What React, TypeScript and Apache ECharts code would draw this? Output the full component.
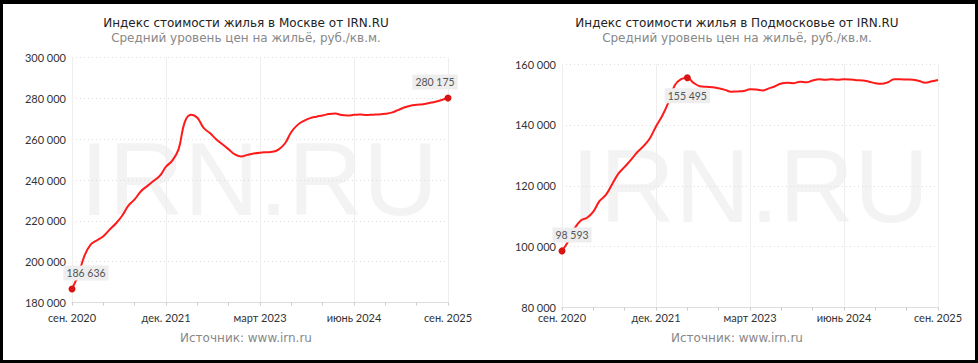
import React, { useEffect, useRef } from "react";
import * as echarts from "echarts";

const MONTHS = ["янв.", "февр.", "март", "апр.", "май", "июнь", "июль", "авг.", "сен.", "окт.", "нояб.", "дек."];
const START_YEAR = 2020;
const START_MONTH = 8; // сентябрь
const N_MONTHS = 61;

const categories: string[] = [];
for (let i = 0; i < N_MONTHS; i++) {
  const m = (START_MONTH + i) % 12;
  const y = START_YEAR + Math.floor((START_MONTH + i) / 12);
  categories.push(`${MONTHS[m]} ${y}`);
}

const moscowValues = [
  186636, 193500, 203000, 208500, 210500, 212500, 215700, 218700, 222500, 227500,
  230500, 234500, 237000, 239500, 242000, 246500, 249500, 255000, 268500, 272000,
  270500, 265500, 263000, 260000, 257500, 255000, 252500, 251500, 252300, 253000,
  253400, 253600, 253800, 255000, 258000, 263500, 267000, 269000, 270300, 271000,
  271600, 272300, 272600, 271800, 271600, 271900, 272100, 271800, 272000, 272100,
  272400, 273000, 274200, 275500, 276400, 276800, 277100, 277700, 278300, 279200,
  280175,
];

const regionValues = [
  98593, 101800, 106000, 108600, 109500, 111500, 115000, 117000, 120500, 124000,
  126200, 128500, 131000, 133000, 135500, 139500, 143000, 147500, 153000, 155000,
  155495, 153800, 152700, 152500, 152400, 152000, 151500, 150900, 151000, 151100,
  151700, 151600, 151300, 152000, 152700, 153600, 153800, 153700, 154200, 154000,
  154600, 155000, 154800, 155000, 154800, 155000, 154900, 154700, 154600, 154200,
  153700, 153500, 154000, 155000, 154950, 154900, 154850, 154400, 153850, 154300,
  154750,
];

const moscowAxis = { min: 180000, max: 300000, interval: 20000 };
const regionAxis = { min: 80000, max: 160000, interval: 20000 };

const moscowMarks = [
  { idx: 0, position: "top", offset: [14, 0] },
  { idx: 60, position: "top", offset: [-13, 0] },
];
const regionMarks = [
  { idx: 0, position: "top", offset: [10, 0] },
  { idx: 20, position: "bottom", offset: [0, 2] },
];

const TITLES = [
  "Индекс стоимости жилья в Москве от IRN.RU",
  "Индекс стоимости жилья в Подмосковье от IRN.RU",
];
const SUBTITLE = "Средний уровень цен на жильё, руб./кв.м.";
const SOURCE = "Источник: www.irn.ru";
const WATERMARK = "IRN.RU";

const fmt = (v: number) => String(Math.round(v)).replace(/\B(?=(\d{3})+(?!\d))/g, " ");

const OX = 3;
const OY = 4;
const W = 972;
const H = 356;

function buildData(values: number[], marks: any[]) {
  return values.map((v, i) => {
    const mk = marks.find((m) => m.idx === i);
    if (!mk) return { value: v, symbol: "none", symbolSize: 0 };
    return {
      value: v,
      symbol: "circle",
      symbolSize: 7,
      itemStyle: { color: "#d91414" },
      label: {
        show: true,
        position: mk.position,
        offset: mk.offset,
        formatter: () => fmt(v),
        backgroundColor: "#eeeeee",
        color: "#555",
        fontFamily: "Lato",
        fontSize: 10.5,
        padding: [2, 3],
      },
    };
  });
}

export default function App() {
  const ref = useRef<HTMLDivElement>(null);
  useEffect(() => {
    document.body.style.margin = "0";
    if (!ref.current) return;
    const chart = echarts.init(ref.current, undefined, { renderer: "svg" });

    const grids = [
      { left: 72 - OX, top: 57.5 - OY, width: 376, height: 245 },
      { left: 562 - OX, top: 64 - OY, width: 376, height: 243.5 },
    ];
    const panelCenters = [246 - OX, 737 - OX];

    const xAxisBase = (gi: number, margin: number) => ({
      type: "category",
      gridIndex: gi,
      data: categories,
      boundaryGap: false,
      axisLine: { lineStyle: { color: "#dddddd" } },
      axisTick: { show: true, interval: 4, length: 3, lineStyle: { color: "#cccccc" } },
      axisLabel: {
        interval: 14,
        color: "#333",
        fontFamily: "Lato",
        fontSize: 11,
        margin,
      },
      splitLine: { show: true, interval: 14, lineStyle: { color: "#eeeeee", type: "solid" } },
    });

    const yAxisBase = (gi: number, ax: any) => ({
      type: "value",
      gridIndex: gi,
      min: ax.min,
      max: ax.max,
      interval: ax.interval,
      axisLine: { show: false },
      axisTick: { show: false },
      axisLabel: {
        color: "#333",
        fontFamily: "Lato",
        fontSize: 11,
        margin: 6,
        formatter: (v: number) => fmt(v),
      },
      splitLine: { lineStyle: { color: "#dddddd", type: [1, 3] } },
    });

    const texts: any[] = [];
    [0, 1].forEach((i) => {
      texts.push({
        type: "text",
        x: panelCenters[i],
        y: 22.5 - OY,
        style: { text: TITLES[i], fill: "#222", font: "12px 'DejaVu Sans'", align: "center", verticalAlign: "middle" },
      });
      texts.push({
        type: "text",
        x: panelCenters[i],
        y: 37.5 - OY,
        style: { text: SUBTITLE, fill: "#888", font: "12px 'DejaVu Sans'", align: "center", verticalAlign: "middle" },
      });
      texts.push({
        type: "text",
        x: panelCenters[i],
        y: 337.5 - OY,
        style: { text: SOURCE, fill: "#888", font: "12px 'DejaVu Sans'", align: "center", verticalAlign: "middle" },
      });
    });
    const wmPos = [
      [259 - OX, 179 - OY],
      [750 - OX, 186 - OY],
    ];
    wmPos.forEach((p) => {
      texts.push({
        type: "text",
        x: p[0],
        y: p[1],
        z: -10,
        silent: true,
        style: {
          text: WATERMARK,
          fill: "#f3f3f3",
          font: "104px 'Liberation Sans'",
          align: "center",
          verticalAlign: "middle",
        },
      });
    });

    const seriesBase = (i: number, values: number[], marks: any[]) => ({
      type: "line",
      xAxisIndex: i,
      yAxisIndex: i,
      data: buildData(values, marks),
      smooth: 0.4,
      showAllSymbol: true,
      lineStyle: { color: "#ff1a1a", width: 2 },
      itemStyle: { color: "#d91414" },
      emphasis: { disabled: true },
      z: 5,
    });

    chart.setOption({
      animation: false,
      backgroundColor: "#ffffff",
      grid: grids,
      xAxis: [xAxisBase(0, 9), xAxisBase(1, 4)],
      yAxis: [yAxisBase(0, moscowAxis), yAxisBase(1, regionAxis)],
      graphic: texts,
      series: [seriesBase(0, moscowValues, moscowMarks), seriesBase(1, regionValues, regionMarks)],
    });
    return () => chart.dispose();
  }, []);

  return (
    <div style={{ width: 978, height: 363, background: "#000", position: "relative" }}>
      <div ref={ref} style={{ position: "absolute", left: OX, top: OY, width: W, height: H }} />
    </div>
  );
}
